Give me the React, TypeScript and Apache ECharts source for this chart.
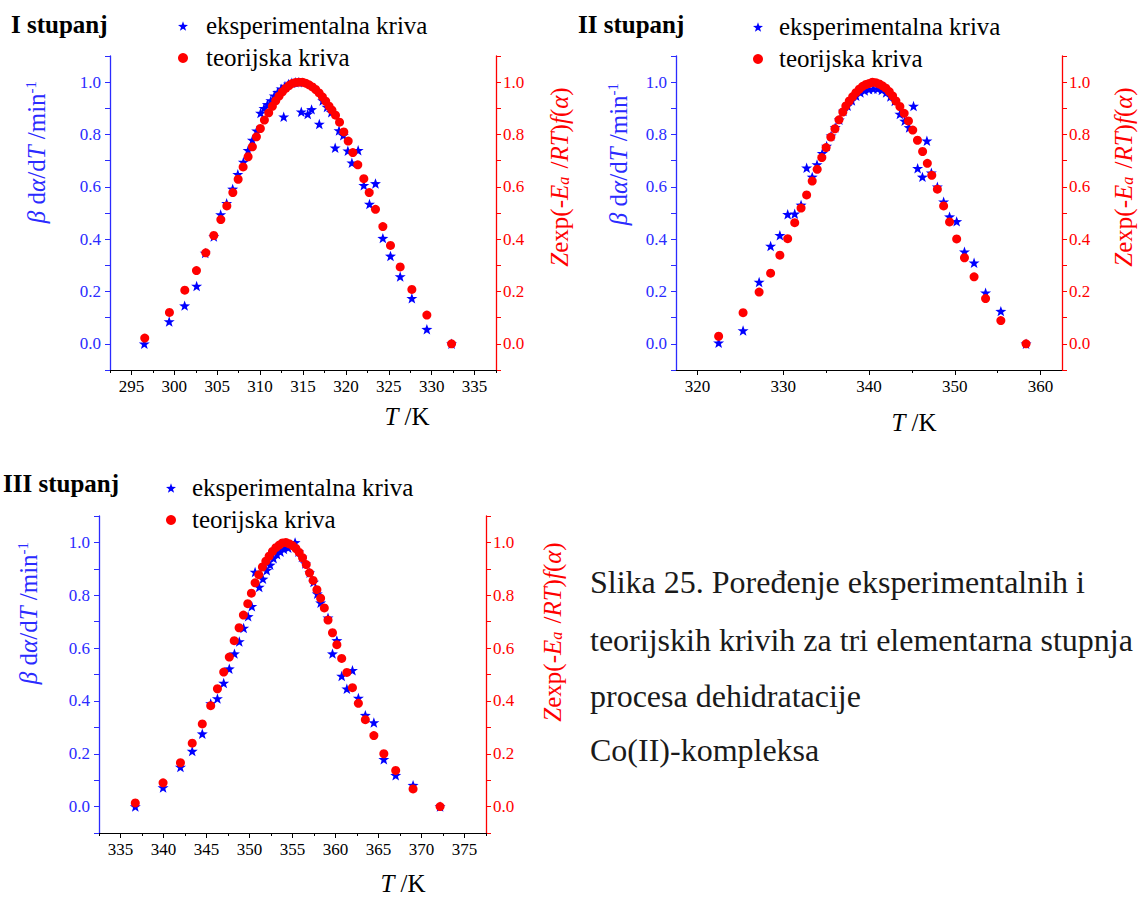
import React, { useEffect, useRef } from "react";
import * as echarts from "echarts";

const FONT = "'Liberation Serif', 'Times New Roman', serif";
const BLUE = "#0000ff";
const BLUE_AX = "#2b2bff";
const RED = "#ff0000";

// ---- Panel I (I stupanj) ----
const exp1: number[][] = [
  [296.5, 0.0], [299.4, 0.085], [301.2, 0.146], [302.6, 0.221], [303.6, 0.347], [304.6, 0.41],
  [305.4, 0.494], [306.1, 0.537], [306.8, 0.592], [307.4, 0.648], [308.05, 0.695], [308.6, 0.74],
  [309.1, 0.779], [309.6, 0.814], [310.05, 0.882], [310.45, 0.9], [310.85, 0.915], [311.25, 0.93],
  [311.65, 0.948], [312.05, 0.962], [312.45, 0.975], [312.75, 0.868], [312.9, 0.985], [313.3, 0.993],
  [313.7, 0.998], [314.1, 1.0], [314.5, 1.0], [314.8, 0.887], [315.55, 0.878], [316.0, 0.896],
  [316.9, 0.84], [317.3, 0.93], [317.8, 0.905], [318.3, 0.885], [318.75, 0.749], [319.2, 0.815],
  [319.7, 0.797], [320.23, 0.738], [320.7, 0.692], [321.43, 0.74], [322.09, 0.606], [322.75, 0.534],
  [323.45, 0.613], [324.31, 0.404], [325.2, 0.336], [326.33, 0.257], [327.69, 0.174], [329.44, 0.056],
  [332.32, 0.0],
];
const theo1: number[][] = [
  [296.55, 0.022], [299.43, 0.12], [301.22, 0.205], [302.58, 0.28], [303.67, 0.348], [304.6, 0.414],
  [305.42, 0.475], [306.12, 0.527], [306.82, 0.578], [307.44, 0.629], [308.02, 0.676], [308.6, 0.715],
  [309.1, 0.753], [309.57, 0.791], [310.03, 0.823], [310.5, 0.855], [311.0, 0.883], [311.43, 0.908],
  [311.82, 0.929], [312.21, 0.947], [312.6, 0.963], [312.98, 0.976], [313.38, 0.987], [313.76, 0.995],
  [314.15, 0.999], [314.54, 1.0], [314.93, 1.0], [315.31, 0.996], [315.71, 0.99], [316.1, 0.982],
  [316.48, 0.972], [316.88, 0.959], [317.26, 0.944], [317.65, 0.927], [318.04, 0.908], [318.38, 0.893],
  [318.79, 0.874], [319.26, 0.847], [319.76, 0.81], [320.27, 0.775], [320.81, 0.731], [321.39, 0.684],
  [322.09, 0.631], [322.72, 0.578], [323.45, 0.514], [324.31, 0.448], [325.2, 0.376], [326.33, 0.294],
  [327.69, 0.208], [329.44, 0.11], [332.32, 0.0],
];
const xMajor1 = [295, 300, 305, 310, 315, 320, 325, 330, 335];
const xMinor1 = [292.5, 297.5, 302.5, 307.5, 312.5, 317.5, 322.5, 327.5, 332.5, 337.5];

// ---- Panel II (II stupanj) ----
const exp2: number[][] = [
  [322.47, 0.004], [325.32, 0.051], [327.19, 0.236], [328.53, 0.374], [329.61, 0.415], [330.52, 0.495],
  [331.34, 0.497], [332.08, 0.531], [332.73, 0.673], [333.38, 0.638], [333.94, 0.685], [334.55, 0.728],
  [335.06, 0.756], [335.58, 0.795], [336.06, 0.827], [336.54, 0.856], [337.01, 0.89], [337.5, 0.91],
  [338.0, 0.93], [338.5, 0.948], [339.0, 0.96], [339.5, 0.968], [340.0, 0.973], [340.5, 0.975],
  [341.0, 0.975], [341.5, 0.97], [342.0, 0.96], [342.5, 0.945], [343.0, 0.928], [343.6, 0.878],
  [344.16, 0.852], [344.68, 0.827], [345.19, 0.909], [345.67, 0.671], [346.23, 0.638], [346.75, 0.776],
  [347.27, 0.654], [347.97, 0.6], [348.7, 0.543], [349.39, 0.486], [350.22, 0.468], [351.13, 0.352],
  [352.25, 0.31], [353.59, 0.195], [355.37, 0.125], [358.31, 0.0],
];
const theo2: number[][] = [
  [322.47, 0.029], [325.32, 0.119], [327.19, 0.198], [328.53, 0.27], [329.61, 0.339], [330.52, 0.402],
  [331.34, 0.463], [332.08, 0.519], [332.73, 0.569], [333.38, 0.622], [333.96, 0.667], [334.5, 0.712],
  [335.0, 0.75], [335.55, 0.79], [336.03, 0.822], [336.5, 0.856], [336.95, 0.886], [337.3, 0.909],
  [337.7, 0.928], [338.1, 0.945], [338.47, 0.96], [338.86, 0.973], [339.25, 0.984], [339.64, 0.991],
  [340.02, 0.995], [340.4, 1.0], [340.8, 0.998], [341.2, 0.993], [341.58, 0.986], [341.97, 0.977],
  [342.36, 0.964], [342.75, 0.948], [343.14, 0.928], [343.6, 0.907], [344.1, 0.881], [344.6, 0.852],
  [345.1, 0.817], [345.65, 0.778], [346.25, 0.735], [346.8, 0.69], [347.32, 0.644], [347.97, 0.591],
  [348.7, 0.527], [349.39, 0.466], [350.22, 0.401], [351.13, 0.329], [352.25, 0.256], [353.59, 0.173],
  [355.37, 0.089], [358.31, 0.0],
];
const xMajor2 = [320, 330, 340, 350, 360];
const xMinor2 = [325, 335, 345, 355];

// ---- Panel III (III stupanj) ----
const exp3: number[][] = [
  [336.72, 0.0], [339.95, 0.072], [341.97, 0.15], [343.34, 0.21], [344.51, 0.276], [345.49, 0.39],
  [346.27, 0.409], [347.0, 0.468], [347.65, 0.522], [348.25, 0.579], [348.81, 0.625], [349.32, 0.676],
  [349.84, 0.72], [350.27, 0.758], [350.65, 0.888], [351.13, 0.831], [351.56, 0.862], [352.0, 0.895],
  [352.4, 0.915], [352.8, 0.94], [353.2, 0.955], [353.6, 0.965], [354.0, 0.975], [354.5, 0.98],
  [355.3, 1.0], [355.7, 0.965], [356.1, 0.945], [356.5, 0.92], [357.0, 0.885], [357.45, 0.85],
  [357.88, 0.806], [358.27, 0.772], [359.13, 0.715], [359.65, 0.579], [360.16, 0.629], [360.72, 0.494],
  [361.32, 0.446], [361.97, 0.516], [362.66, 0.411], [363.47, 0.346], [364.46, 0.318], [365.62, 0.179],
  [367.0, 0.119], [369.02, 0.081], [372.16, 0.0],
];
const theo3: number[][] = [
  [336.72, 0.014], [339.95, 0.09], [341.97, 0.166], [343.34, 0.24], [344.51, 0.313], [345.49, 0.382],
  [346.27, 0.446], [347.0, 0.509], [347.65, 0.566], [348.22, 0.628], [348.79, 0.677], [349.29, 0.725],
  [349.8, 0.768], [350.22, 0.808], [350.65, 0.847], [351.08, 0.878], [351.5, 0.907], [351.9, 0.929],
  [352.28, 0.948], [352.67, 0.966], [353.06, 0.98], [353.45, 0.99], [353.83, 0.998], [354.23, 1.0],
  [354.61, 0.995], [355.0, 0.988], [355.4, 0.977], [355.78, 0.962], [356.17, 0.942], [356.6, 0.916],
  [356.98, 0.885], [357.4, 0.856], [357.84, 0.821], [358.27, 0.789], [358.7, 0.752], [359.13, 0.706],
  [359.65, 0.658], [360.16, 0.613], [360.72, 0.561], [361.32, 0.508], [361.97, 0.45], [362.66, 0.391],
  [363.47, 0.329], [364.46, 0.269], [365.62, 0.2], [367.0, 0.137], [369.02, 0.067], [372.16, 0.0],
];
const xMajor3 = [335, 340, 345, 350, 355, 360, 365, 370, 375];
const xMinor3 = [332.5, 337.5, 342.5, 347.5, 352.5, 357.5, 362.5, 367.5, 372.5, 377.5];

const panelTitles = ["I stupanj", "II stupanj", "III stupanj"];
const seriesNames = ["eksperimentalna kriva", "teorijska kriva"];
const captionLines = [
  "Slika 25. Poređenje eksperimentalnih i",
  "teorijskih krivih za tri elementarna stupnja",
  "procesa dehidratacije",
  "Co(II)-kompleksa",
];

const STAR =
  "path://M0,-10L2.35,-3.24L9.51,-3.09L3.8,1.24L5.88,8.09L0,4.2L-5.88,8.09L-3.8,1.24L-9.51,-3.09L-2.35,-3.24Z";

const panels = [
  {
    exp: exp1, theo: theo1, xMin: 292.5, xMax: 337.5, major: xMajor1, minor: xMinor1,
    grid: { left: 110, top: 56, width: 386, height: 314 },
    title: { left: 11, top: 12 }, legend: { x: 183, top: 21, textX: 206 },
    leftName: { x: 36, y: 152 }, rightName: { x: 559, y: 177 }, xName: { x: 407, y: 416 },
  },
  {
    exp: exp2, theo: theo2, xMin: 317.5, xMax: 362.5, major: xMajor2, minor: xMinor2,
    grid: { left: 676, top: 56, width: 386, height: 314 },
    title: { left: 578, top: 12 }, legend: { x: 758, top: 22, textX: 779 },
    leftName: { x: 618, y: 154 }, rightName: { x: 1123, y: 177 }, xName: { x: 914, y: 422 },
  },
  {
    exp: exp3, theo: theo3, xMin: 332.5, xMax: 377.5, major: xMajor3, minor: xMinor3,
    grid: { left: 99, top: 516, width: 387, height: 317 },
    title: { left: 3, top: 471 }, legend: { x: 171, top: 483, textX: 192 },
    leftName: { x: 28, y: 613 }, rightName: { x: 552, y: 632 }, xName: { x: 403, y: 883 },
  },
];

const yFmt = (v: number) => {
  const k = Math.round(v * 10);
  return k >= 0 && k <= 10 && k % 2 === 0 ? (k / 10).toFixed(1) : "";
};

function buildOption() {
  const grid: any[] = [];
  const xAxis: any[] = [];
  const yAxis: any[] = [];
  const series: any[] = [];
  const legend: any[] = [];
  const title: any[] = [];
  const graphic: any[] = [];

  const baseRich = (color: string) => ({
    n: { fontFamily: FONT, fontSize: 25, fill: color, color },
    i: { fontFamily: FONT, fontSize: 25, fontStyle: "italic", fill: color, color },
    sup: { fontFamily: FONT, fontSize: 15, fill: color, color, verticalAlign: "top", padding: [0, 0, 10, 0] },
    sub: { fontFamily: FONT, fontSize: 16, fontStyle: "italic", fill: color, color, verticalAlign: "bottom", padding: [8, 2, 0, 0] },
  });

  panels.forEach((p, gi) => {
    grid.push({ ...p.grid, containLabel: false });
    xAxis.push({
      type: "value", gridIndex: gi, position: "bottom", min: p.xMin, max: p.xMax,
      axisLine: { show: true, onZero: false, lineStyle: { color: "#000", width: 1.2 } },
      axisTick: { show: true, inside: false, length: 3, customValues: p.minor, lineStyle: { color: "#000", width: 1 } },
      axisLabel: { show: true, customValues: p.major, margin: 8, fontFamily: FONT, fontSize: 17, color: "#000",
        formatter: (v: number) => String(Math.round(v)) },
      splitLine: { show: false },
    });
    xAxis.push({
      type: "value", gridIndex: gi, position: "bottom", min: p.xMin, max: p.xMax,
      axisLine: { show: false, onZero: false },
      axisTick: { show: true, inside: false, length: 5, customValues: p.major, lineStyle: { color: "#000", width: 1 } },
      axisLabel: { show: false },
      splitLine: { show: false },
    });
    const yCommon = {
      type: "value", gridIndex: gi, min: -0.1, max: 1.1, interval: 0.1,
      splitLine: { show: false },
    };
    yAxis.push({
      ...yCommon, position: "left",
      axisLine: { show: true, onZero: false, lineStyle: { color: BLUE_AX, width: 1.3 } },
      axisTick: { show: true, inside: false, length: 5, lineStyle: { color: BLUE_AX } },
      axisLabel: { margin: 9, fontFamily: FONT, fontSize: 17, color: BLUE_AX, formatter: yFmt },
    });
    yAxis.push({
      ...yCommon, position: "right",
      axisLine: { show: true, onZero: false, lineStyle: { color: RED, width: 1.3 } },
      axisTick: { show: true, inside: false, length: 5, lineStyle: { color: RED } },
      axisLabel: { margin: 7, fontFamily: FONT, fontSize: 17, color: RED, formatter: yFmt },
    });
    series.push({
      name: seriesNames[0], type: "scatter", xAxisIndex: gi * 2, yAxisIndex: gi * 2,
      data: p.exp, symbol: STAR, symbolSize: 11, symbolKeepAspect: true,
      itemStyle: { color: BLUE, opacity: 1 }, z: 2,
    });
    series.push({
      name: seriesNames[1], type: "scatter", xAxisIndex: gi * 2, yAxisIndex: gi * 2 + 1,
      data: p.theo, symbol: "circle", symbolSize: 9,
      itemStyle: { color: RED, opacity: 1 }, z: 3,
    });
    // one legend per entry so each icon sits exactly where the reference has it
    seriesNames.forEach((nm, k) => {
      legend.push({
        left: p.legend.x - 5, top: p.legend.top + k * 32, orient: "vertical", padding: 0,
        itemWidth: 10, itemHeight: 10, selectedMode: false,
        data: [nm],
        itemStyle: { opacity: 1 },
        formatter: () => "",
        textStyle: { fontFamily: FONT, fontSize: 25, color: "#000" },
      });
      graphic.push({
        type: "text", x: p.legend.textX, y: p.legend.top + 4 + k * 32,
        style: { text: nm, fontFamily: FONT, fontSize: 25, fill: "#000", align: "left", verticalAlign: "middle" },
      });
    });
    title.push({
      text: panelTitles[gi], left: p.title.left, top: p.title.top, padding: 0,
      textStyle: { fontFamily: FONT, fontSize: 25, fontWeight: "bold", color: "#000" },
    });
    graphic.push({
      type: "text", x: p.leftName.x, y: p.leftName.y, rotation: Math.PI / 2,
      style: {
        text: "{i|β}{n| d}{i|α}{n|/d}{i|T}{n| /min}{sup|-1}",
        rich: baseRich(BLUE_AX), align: "center", verticalAlign: "middle",
        fontFamily: FONT, fontSize: 25, fill: BLUE_AX,
      },
    });
    graphic.push({
      type: "text", x: p.rightName.x, y: p.rightName.y, rotation: Math.PI / 2,
      style: {
        text: "{i|Z}{n|exp(-}{i|E}{sub|a}{n| /}{i|RT}{n|)}{i|f}{n|(}{i|α}{n|)}",
        rich: baseRich(RED), align: "center", verticalAlign: "middle",
        fontFamily: FONT, fontSize: 25, fill: RED,
      },
    });
    graphic.push({
      type: "text", x: p.xName.x, y: p.xName.y,
      style: {
        text: "{i|T}{n| /K}", rich: baseRich("#000"), align: "center", verticalAlign: "middle",
        fontFamily: FONT, fontSize: 25, fill: "#000",
      },
    });
  });

  const capY = [582, 640, 696, 750];
  captionLines.forEach((line, i) => {
    graphic.push({
      type: "text", x: 590, y: capY[i],
      style: { text: line, fontFamily: FONT, fontSize: 32, fill: "#1a1a1a", align: "left", verticalAlign: "middle" },
    });
  });

  return {
    animation: false,
    backgroundColor: "#ffffff",
    textStyle: { fontFamily: FONT },
    title, legend, grid, xAxis, yAxis, series, graphic,
  };
}

export default function App() {
  const ref = useRef<HTMLDivElement>(null);
  useEffect(() => {
    if (!ref.current) return;
    const chart = echarts.init(ref.current, undefined, { renderer: "svg" });
    chart.setOption(buildOption() as any);
    return () => chart.dispose();
  }, []);
  return (
    <div
      ref={ref}
      style={{ position: "fixed", left: 0, top: 0, width: 1142, height: 897, background: "#fff" }}
    />
  );
}
